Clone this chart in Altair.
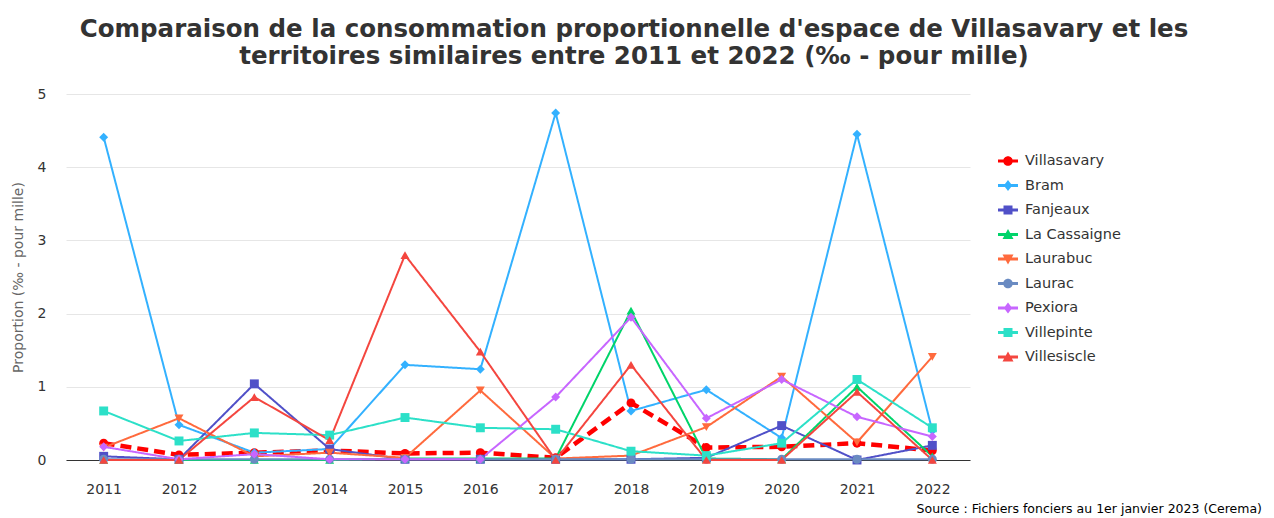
import altair as alt
import pandas as pd

years = [str(y) for y in range(2011, 2023)]

communes = ["Villasavary", "Bram", "Fanjeaux", "La Cassaigne", "Laurabuc",
            "Laurac", "Pexiora", "Villepinte", "Villesiscle"]

villasavary = [0.23, 0.07, 0.10, 0.13, 0.09, 0.10, 0.03, 0.78, 0.17, 0.18, 0.23, 0.13]
bram = [4.41, 0.48, 0.10, 0.15, 1.30, 1.24, 4.74, 0.67, 0.96, 0.30, 4.45, 0.40]
fanjeaux = [0.05, 0.01, 1.04, 0.15, 0.01, 0.01, 0.01, 0.01, 0.03, 0.47, 0.0, 0.20]
la_cassaigne = [0.0, 0.0, 0.0, 0.0, 0.02, 0.02, 0.02, 2.04, 0.02, 0.01, 1.0, 0.05]
laurabuc = [0.17, 0.57, 0.05, 0.10, 0.03, 0.95, 0.02, 0.06, 0.45, 1.14, 0.24, 1.41]
laurac = [0.01, 0.01, 0.01, 0.01, 0.01, 0.01, 0.01, 0.01, 0.01, 0.01, 0.01, 0.01]
pexiora = [0.18, 0.01, 0.08, 0.01, 0.01, 0.01, 0.86, 1.95, 0.57, 1.10, 0.59, 0.32]
villepinte = [0.67, 0.26, 0.37, 0.34, 0.58, 0.44, 0.42, 0.12, 0.06, 0.23, 1.10, 0.44]
villesiscle = [0.0, 0.0, 0.86, 0.27, 2.80, 1.48, 0.0, 1.30, 0.0, 0.0, 0.93, 0.0]

series = [villasavary, bram, fanjeaux, la_cassaigne, laurabuc,
          laurac, pexiora, villepinte, villesiscle]

colors = ["#ff0000", "#33b1ff", "#5050c8", "#00d46a", "#ff6a3d",
          "#6a8bc2", "#c766ff", "#2ce0c8", "#f4463f"]
shapes = ["circle", "diamond", "square", "triangle-up", "triangle-down",
          "circle", "diamond", "square", "triangle-up"]

bar = "M-1,-0.14H1V0.14H-1Z "
p_circle = bar + "M0.48,0A0.48,0.48,0,1,1,-0.48,0A0.48,0.48,0,1,1,0.48,0Z"
p_diamond = bar + "M0,-0.55L0.42,0L0,0.55L-0.42,0Z"
p_square = bar + "M-0.45,-0.45H0.45V0.45H-0.45Z"
p_tri_up = bar + "M0,-0.55L0.55,0.45H-0.55Z"
p_tri_down = bar + "M-0.55,-0.45H0.55L0,0.55Z"
legend_paths = [p_circle, p_diamond, p_square, p_tri_up, p_tri_down,
                p_circle, p_diamond, p_square, p_tri_up]

rows = []
for name, vals in zip(communes, series):
    for yr, v in zip(years, vals):
        rows.append({"commune": name, "annee": yr, "valeur": v})
df = pd.DataFrame(rows)

color_scale = alt.Scale(domain=communes, range=colors)

x_enc = alt.X("annee:O", sort=years, scale=alt.Scale(type="point", padding=0.5),
              axis=alt.Axis(title=None, labelAngle=0, labelFontSize=14, labelColor="#333333",
                            labelFont="DejaVu Sans", ticks=False, domainColor="#333333",
                            labelPadding=22, grid=False))
y_enc = alt.Y("valeur:Q", scale=alt.Scale(domain=[0, 5], nice=False),
              axis=alt.Axis(title="Proportion (‰ - pour mille)", values=[0, 1, 2, 3, 4, 5],
                            labelFontSize=14, labelColor="#333333", labelFont="DejaVu Sans",
                            ticks=False, domain=False, gridColor="#e6e6e6", labelPadding=20,
                            titleFontSize=14, titleFontWeight="normal", titleColor="#666666",
                            titleFont="DejaVu Sans", titleX=-41, titleY=183))

base = alt.Chart(df)
is_main = alt.datum.commune == "Villasavary"

lines = base.mark_line(interpolate="linear").encode(
    x=x_enc, y=y_enc,
    color=alt.Color("commune:N", scale=color_scale, legend=None),
    strokeWidth=alt.condition(is_main, alt.value(4.5), alt.value(2)),
    strokeDash=alt.condition(is_main, alt.value([11, 6]), alt.value([1, 0])),
    detail="commune:N",
)

points = base.mark_point(filled=True, opacity=1, size=80).encode(
    x=x_enc, y=y_enc,
    color=alt.Color("commune:N", scale=color_scale, legend=None),
    shape=alt.Shape("commune:N", scale=alt.Scale(domain=communes, range=shapes), legend=None),
)

leg = alt.Legend(title=None, orient="none", legendX=932, legendY=57,
                 symbolSize=400, symbolStrokeWidth=0,
                 labelFontSize=14.5, labelColor="#333333",
                 labelFont="DejaVu Sans", rowPadding=7.5, labelOffset=7)

legend_layer = base.mark_point(filled=True, opacity=1, clip=True).encode(
    x=alt.value(-200), y=alt.value(-200),
    color=alt.Color("commune:N", scale=color_scale, legend=leg),
    shape=alt.Shape("commune:N", scale=alt.Scale(domain=communes, range=legend_paths), legend=leg),
)

source = pd.DataFrame({"t": ["Source : Fichiers fonciers au 1er janvier 2023 (Cerema)"]})
source_text = alt.Chart(source).mark_text(
    align="right", baseline="alphabetic", fontSize=12.5, color="#000000", font="DejaVu Sans"
).encode(text="t:N", x=alt.value(1196), y=alt.value(419))

chart = alt.layer(lines, points, legend_layer, source_text).resolve_scale(
    color="independent", shape="independent"
).properties(
    width=904, height=366,
    background="white",
    title=alt.Title(
        ["Comparaison de la consommation proportionnelle d'espace de Villasavary et les",
         "territoires similaires entre 2011 et 2022 (‰ - pour mille)"],
        fontSize=24.5, font="DejaVu Sans", fontWeight="bold", color="#333333",
        anchor="middle", dx=116, offset=18, lineHeight=27),
    autosize=alt.AutoSizeParams(type="none"),
    padding={"left": 58, "top": 86, "right": 296, "bottom": 56},
).configure_view(stroke="transparent", strokeWidth=0)

chart.save("out.html", embed_options={"renderer": "svg", "actions": False})
